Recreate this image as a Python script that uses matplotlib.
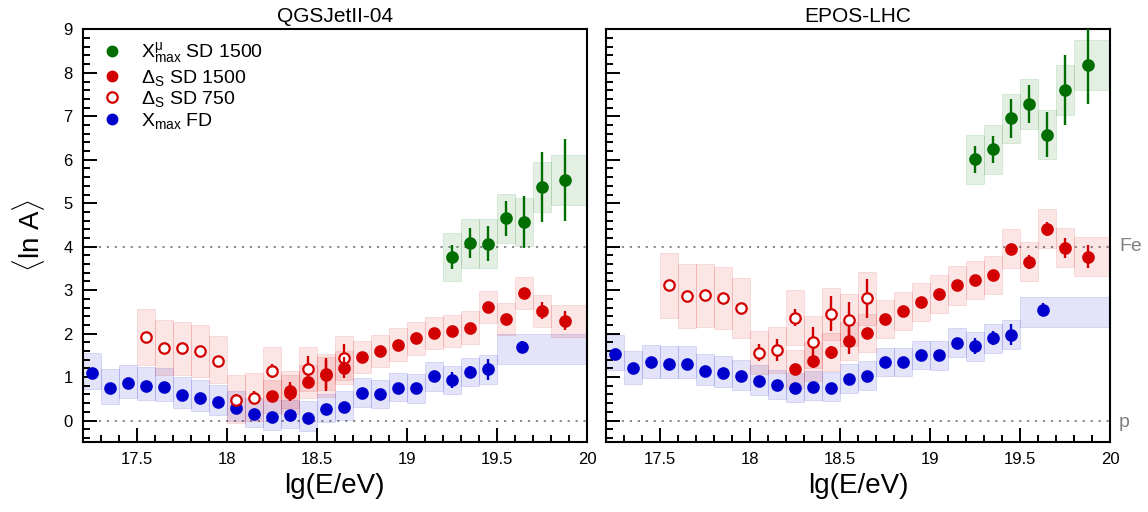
import numpy as np
import matplotlib.pyplot as plt
from matplotlib.lines import Line2D
from matplotlib.ticker import MultipleLocator
import matplotlib.transforms as mtransforms

plt.rcParams['font.family'] = ['Liberation Sans', 'DejaVu Sans']
plt.rcParams['mathtext.fontset'] = 'custom'
plt.rcParams['mathtext.rm'] = 'Liberation Sans'
plt.rcParams['mathtext.it'] = 'Liberation Sans:italic'
plt.rcParams['mathtext.bf'] = 'Liberation Sans:bold'

## ---- data (lg(E/eV), <lnA>) ----
models = ['QGSJetII-04', 'EPOS-LHC']

# Xmax FD
fd_x = {
    'QGSJetII-04': [17.25, 17.35, 17.45, 17.55, 17.65, 17.75, 17.85, 17.95, 18.05, 18.15, 18.25, 18.35,
                    18.45, 18.55, 18.65, 18.75, 18.85, 18.95, 19.05, 19.15, 19.25, 19.35, 19.45, 19.64],
    'EPOS-LHC': [17.25, 17.35, 17.45, 17.55, 17.65, 17.75, 17.85, 17.95, 18.05, 18.15, 18.25, 18.35,
                 18.45, 18.55, 18.65, 18.75, 18.85, 18.95, 19.05, 19.15, 19.25, 19.35, 19.45, 19.63],
}
fd_edges = [17.2, 17.3, 17.4, 17.5, 17.6, 17.7, 17.8, 17.9, 18.0, 18.1, 18.2, 18.3, 18.4,
            18.5, 18.6, 18.7, 18.8, 18.9, 19.0, 19.1, 19.2, 19.3, 19.4, 19.5, 20.0]
fd_y = {
    'QGSJetII-04': [1.09, 0.74, 0.86, 0.80, 0.78, 0.59, 0.53, 0.42, 0.29, 0.16, 0.09, 0.12,
                    0.07, 0.26, 0.32, 0.63, 0.61, 0.76, 0.74, 1.02, 0.93, 1.12, 1.18, 1.70],
    'EPOS-LHC': [1.54, 1.21, 1.34, 1.31, 1.31, 1.15, 1.10, 1.02, 0.91, 0.81, 0.74, 0.78,
                 0.76, 0.95, 1.02, 1.34, 1.34, 1.51, 1.50, 1.79, 1.71, 1.89, 1.98, 2.55],
}
fd_stat = {
    'QGSJetII-04': [0.05, 0.05, 0.05, 0.05, 0.05, 0.05, 0.05, 0.05, 0.05, 0.05, 0.05, 0.05,
                    0.05, 0.06, 0.06, 0.06, 0.07, 0.07, 0.08, 0.09, 0.19, 0.13, 0.24, 0.13],
    'EPOS-LHC': [0.05, 0.05, 0.05, 0.05, 0.05, 0.05, 0.05, 0.05, 0.05, 0.05, 0.05, 0.05,
                 0.05, 0.06, 0.06, 0.06, 0.07, 0.07, 0.08, 0.09, 0.18, 0.16, 0.25, 0.15],
}
fd_sys_hi = {
    'QGSJetII-04': [0.46, 0.44, 0.43, 0.44, 0.42, 0.42, 0.41, 0.39, 0.39, 0.37, 0.37, 0.36,
                    0.37, 0.36, 0.35, 0.34, 0.33, 0.33, 0.33, 0.33, 0.33, 0.33, 0.33, 0.30],
    'EPOS-LHC': [0.42, 0.40, 0.40, 0.40, 0.40, 0.39, 0.38, 0.38, 0.37, 0.36, 0.36, 0.35,
                 0.35, 0.35, 0.34, 0.33, 0.33, 0.33, 0.33, 0.33, 0.33, 0.33, 0.33, 0.30],
}
fd_sys_lo = {
    'QGSJetII-04': [0.36, 0.37, 0.34, 0.33, 0.33, 0.31, 0.31, 0.30, 0.30, 0.30, 0.31, 0.30,
                    0.30, 0.29, 0.30, 0.31, 0.32, 0.32, 0.33, 0.33, 0.33, 0.33, 0.33, 0.39],
    'EPOS-LHC': [0.38, 0.37, 0.36, 0.34, 0.34, 0.33, 0.32, 0.32, 0.32, 0.31, 0.31, 0.31,
                 0.31, 0.31, 0.31, 0.32, 0.32, 0.32, 0.33, 0.33, 0.33, 0.33, 0.33, 0.40],
}

# Delta_S SD 1500
sd_x = [18.25, 18.35, 18.45, 18.55, 18.65, 18.75, 18.85, 18.95, 19.05, 19.15, 19.25, 19.35,
        19.45, 19.55, 19.65, 19.75, 19.88]
sd_edges = [18.2, 18.3, 18.4, 18.5, 18.6, 18.7, 18.8, 18.9, 19.0, 19.1, 19.2, 19.3, 19.4,
            19.5, 19.6, 19.7, 19.8, 20.0]
sd_y = {
    'QGSJetII-04': [0.56, 0.68, 0.89, 1.08, 1.22, 1.47, 1.61, 1.75, 1.89, 2.01, 2.07, 2.14,
                    2.62, 2.33, 2.93, 2.53, 2.30],
    'EPOS-LHC': [1.18, 1.36, 1.57, 1.83, 2.02, 2.33, 2.52, 2.72, 2.91, 3.11, 3.23, 3.35,
                 3.95, 3.65, 4.41, 3.98, 3.77],
}
sd_stat = {
    'QGSJetII-04': [0.08, 0.20, 0.15, 0.35, 0.25, 0.07, 0.07, 0.07, 0.07, 0.07, 0.07, 0.07,
                    0.08, 0.13, 0.12, 0.20, 0.22],
    'EPOS-LHC': [0.08, 0.15, 0.15, 0.30, 0.10, 0.07, 0.07, 0.07, 0.07, 0.07, 0.07, 0.07,
                 0.08, 0.16, 0.16, 0.23, 0.26],
}
sd_sys = {
    'QGSJetII-04': [0.38, 0.38, 0.38, 0.38, 0.38, 0.37, 0.37, 0.37, 0.37, 0.37, 0.37, 0.37,
                    0.37, 0.37, 0.37, 0.37, 0.37],
    'EPOS-LHC': [0.44, 0.44, 0.44, 0.44, 0.44, 0.44, 0.44, 0.44, 0.44, 0.44, 0.44, 0.44,
                 0.45, 0.45, 0.45, 0.45, 0.45],
}

# Delta_S SD 750
sd750_x = [17.55, 17.65, 17.75, 17.85, 17.95, 18.05, 18.15, 18.25, 18.35, 18.45, 18.55, 18.65]
sd750_edges = [17.5, 17.6, 17.7, 17.8, 17.9, 18.0, 18.1, 18.2, 18.3, 18.4, 18.5, 18.6, 18.7]
sd750_y = {
    'QGSJetII-04': [1.93, 1.68, 1.66, 1.60, 1.38, 0.48, 0.53, 1.14, 0.64, 1.19, 1.04, 1.44],
    'EPOS-LHC': [3.13, 2.87, 2.88, 2.82, 2.59, 1.56, 1.63, 2.37, 1.80, 2.46, 2.31, 2.81],
}
sd750_stat = {
    'QGSJetII-04': [0.05, 0.05, 0.05, 0.05, 0.06, 0.12, 0.15, 0.16, 0.20, 0.30, 0.35, 0.33],
    'EPOS-LHC': [0.05, 0.05, 0.05, 0.05, 0.06, 0.20, 0.25, 0.20, 0.35, 0.40, 0.42, 0.45],
}
sd750_sys_hi = {
    'QGSJetII-04': [0.63, 0.64, 0.60, 0.60, 0.57, 0.56, 0.56, 0.55, 0.50, 0.50, 0.50, 0.50],
    'EPOS-LHC': [0.73, 0.73, 0.72, 0.71, 0.68, 0.49, 0.53, 0.64, 0.60, 0.60, 0.60, 0.60],
}
sd750_sys_lo = {
    'QGSJetII-04': [0.66, 0.64, 0.60, 0.60, 0.52, 0.54, 0.54, 0.67, 0.50, 0.50, 0.50, 0.50],
    'EPOS-LHC': [0.76, 0.73, 0.72, 0.71, 0.68, 0.49, 0.53, 0.63, 0.60, 0.60, 0.60, 0.60],
}

# Xmax^mu SD 1500
mu_x = [19.25, 19.35, 19.45, 19.55, 19.65, 19.75, 19.88]
mu_edges = [19.2, 19.3, 19.4, 19.5, 19.6, 19.7, 19.8, 20.0]
mu_y = {
    'QGSJetII-04': [3.76, 4.08, 4.07, 4.65, 4.57, 5.37, 5.53],
    'EPOS-LHC': [6.01, 6.24, 6.95, 7.28, 6.58, 7.60, 8.18],
}
mu_stat = {
    'QGSJetII-04': [0.28, 0.34, 0.40, 0.40, 0.59, 0.80, 0.95],
    'EPOS-LHC': [0.31, 0.31, 0.44, 0.43, 0.52, 0.80, 0.90],
}
mu_sys = {
    'QGSJetII-04': [0.56, 0.56, 0.56, 0.56, 0.56, 0.57, 0.57],
    'EPOS-LHC': [0.56, 0.56, 0.57, 0.57, 0.56, 0.57, 0.57],
}

green = '#006e00'
red = '#d20000'
blue = '#0000cd'
grey = '#808080'


def band(ax, edges, y, lo, hi, rgb, a=0.11):
    edges = np.asarray(edges)
    y = np.asarray(y)
    lo = np.asarray(lo)
    hi = np.asarray(hi)
    ax.bar(edges[:-1], lo + hi, width=np.diff(edges), bottom=y - lo, align='edge',
           color=rgb + (a,), edgecolor=rgb + (a + 0.025,), linewidth=0.6, zorder=1)


def points(ax, x, y, err, col, hollow=False, z=3):
    ax.errorbar(x, y, yerr=err, fmt='o', color=col, mec=col,
                mfc='white' if hollow else col, ms=7.5, mew=1.6,
                elinewidth=1.7, capsize=0, zorder=z)


fig = plt.figure(figsize=(11.48, 5.12), dpi=100)
ax1 = fig.add_axes([0.0719, 0.1361, 0.4395, 0.8066])
ax2 = fig.add_axes([0.5279, 0.1361, 0.4390, 0.8066])

for ax, m in zip([ax1, ax2], models):
    ax.axhline(0, color=grey, ls=(0, (1.2, 3.2)), lw=1.3, zorder=0.5)
    ax.axhline(4, color=grey, ls=(0, (1.2, 3.2)), lw=1.3, zorder=0.5)

    band(ax, fd_edges, fd_y[m], fd_sys_lo[m], fd_sys_hi[m], (0.0, 0.0, 0.8))
    band(ax, sd750_edges, sd750_y[m], sd750_sys_lo[m], sd750_sys_hi[m], (0.85, 0.0, 0.0), 0.1)
    band(ax, sd_edges, sd_y[m], sd_sys[m], sd_sys[m], (0.85, 0.0, 0.0), 0.1)
    band(ax, mu_edges, mu_y[m], mu_sys[m], mu_sys[m], (0.0, 0.43, 0.0))

    points(ax, fd_x[m], fd_y[m], fd_stat[m], blue)
    points(ax, sd750_x, sd750_y[m], sd750_stat[m], red, hollow=True)
    points(ax, sd_x, sd_y[m], sd_stat[m], red, z=4)
    points(ax, mu_x, mu_y[m], mu_stat[m], green)

    ax.set_xlim(17.2, 20.0)
    ax.set_ylim(-0.5, 9)
    ax.xaxis.set_major_locator(MultipleLocator(0.5))
    ax.xaxis.set_minor_locator(MultipleLocator(0.1))
    ax.yaxis.set_major_locator(MultipleLocator(1))
    ax.yaxis.set_minor_locator(MultipleLocator(0.2))
    ax.tick_params(which='both', direction='in', top=False, right=False, width=1.4,
                   labelsize=12, pad=7)
    ax.tick_params(which='major', length=10)
    ax.tick_params(which='minor', length=5)
    for s in ax.spines.values():
        s.set_linewidth(1.5)
    ax.set_title(m, fontsize=15, pad=5)
    ax.set_xlabel('lg(E/eV)', fontsize=20, labelpad=4)

ax1.set_xticks([17.5, 18, 18.5, 19, 19.5, 20])
ax1.set_xticklabels(['17.5', '18', '18.5', '19', '19.5', '20'])
ax2.set_xticks([17.5, 18, 18.5, 19, 19.5, 20])
ax2.set_xticklabels(['17.5', '18', '18.5', '19', '19.5', '20'])
ax2.set_yticklabels([])
ax1.set_ylabel(r'$\langle$ln A$\rangle$', fontsize=20, labelpad=12)

# composition references on the right
tr = mtransforms.blended_transform_factory(ax2.transAxes, ax2.transData)
ax2.text(1.018, 4, 'Fe', transform=tr, color=grey, fontsize=14, va='center', ha='left')
ax2.text(1.018, 0, 'p', transform=tr, color=grey, fontsize=14, va='center_baseline', ha='left')

handles = [
    Line2D([], [], marker='o', ls='none', color=green, ms=7.5),
    Line2D([], [], marker='o', ls='none', color=red, ms=7.5),
    Line2D([], [], marker='o', ls='none', color=red, mfc='white', mew=1.6, ms=7.5),
    Line2D([], [], marker='o', ls='none', color=blue, ms=7.5),
]
labels = [r'$\mathrm{X}^{\mathrm{μ}}_{\mathrm{max}}$ SD 1500', r'$\Delta_{\mathrm{S}}$ SD 1500',
          r'$\Delta_{\mathrm{S}}$ SD 750', r'$\mathrm{X}_{\mathrm{max}}$ FD']
ax1.legend(handles, labels, loc='upper left', bbox_to_anchor=(0.01, 1.003), frameon=False,
           fontsize=14, handlelength=1.2, handletextpad=0.9, borderaxespad=0.25,
           borderpad=0.4, labelspacing=0.08)

fig.savefig('out.png', dpi=100)
